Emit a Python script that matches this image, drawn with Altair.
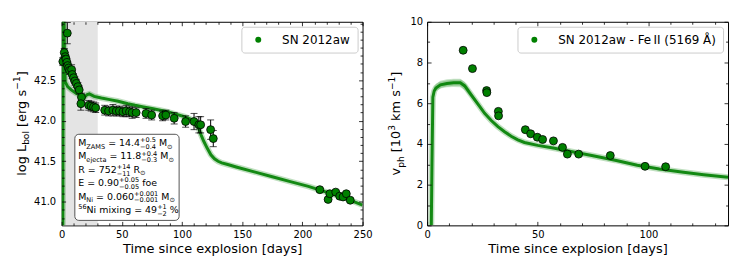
import altair as alt
import pandas as pd

FONT = "DejaVu Sans"
GREEN = "#008000"

# ---------------- left panel: bolometric light curve ----------------
lc_t = [1.0, 2.2, 3.0, 3.6, 4.4, 4.7, 5.0, 5.8, 6.6, 8.3, 8.8, 9.9, 11.0, 12.2, 13.5, 14.6,
        16.5, 16.0, 22.5, 24.5, 26.5, 28.3,
        35.8, 39.0, 42.6, 45.4, 48.0, 50.9, 53.6, 56.4, 58.6, 61.9,
        70.1, 74.8, 83.9, 86.6, 93.5, 103.0, 110.0, 114.0, 115.5, 123.8, 126.0,
        214.5, 221.4, 222.8, 227.7, 231.0, 233.8, 236.5, 239.8]
lc_L = [42.73, 42.84, 42.79, 42.76, 42.72, 43.08, 42.68, 42.65, 42.62, 42.63, 42.57, 42.53, 42.49, 42.46, 42.42, 42.38,
        42.29, 42.21, 42.19, 42.18, 42.17, 42.16,
        42.13, 42.12, 42.13, 42.12, 42.12, 42.11, 42.12, 42.11, 42.10, 42.10,
        42.09, 42.07, 42.06, 42.07, 42.03, 41.99, 41.99, 41.95, 41.95, 41.89, 41.78,
        41.15, 41.03, 41.10, 41.12, 41.07, 41.06, 41.10, 41.02]
lc_err = [0.05, 0.05, 0.05, 0.05, 0.05, 0.13, 0.05, 0.05, 0.05, 0.06, 0.05, 0.05, 0.05, 0.05, 0.05, 0.05,
          0.05, 0.08, 0.06, 0.06, 0.06, 0.06,
          0.06, 0.06, 0.07, 0.06, 0.06, 0.06, 0.07, 0.06, 0.07, 0.06,
          0.06, 0.06, 0.06, 0.06, 0.07, 0.07, 0.1, 0.1, 0.1, 0.12, 0.1,
          0.02, 0.02, 0.02, 0.02, 0.02, 0.02, 0.02, 0.02]

mod_t = [0.9, 1.3, 1.8, 2.3, 3.0, 5, 8, 12, 16, 19, 21, 23, 27, 33, 40, 47, 55, 61, 68, 75, 82, 88,
         95, 102, 107, 110, 112, 114, 116, 118, 121, 124, 127, 130, 133, 138, 145, 160, 175, 190,
         205, 220, 235, 250]
mod_L = [40.0, 43.6, 43.6, 42.9, 42.48, 42.42, 42.38, 42.34, 42.31, 42.29, 42.32, 42.33, 42.30, 42.28,
         42.26, 42.24, 42.21, 42.19, 42.17, 42.15, 42.13, 42.11, 42.08, 42.05, 42.02, 41.99, 41.96,
         41.90, 41.82, 41.75, 41.66, 41.58, 41.53, 41.50, 41.48, 41.46, 41.43, 41.37, 41.31, 41.25,
         41.19, 41.12, 41.05, 40.96]

shade_start = [0]
shade_end = [30]

lc_xmajor = [0, 50, 100, 150, 200, 250]
lc_xminor = [10, 20, 30, 40, 60, 70, 80, 90, 110, 120, 130, 140, 160, 170, 180, 190, 210, 220, 230, 240]
lc_ymajor = [41.0, 41.5, 42.0, 42.5]
lc_yminor = [40.8, 40.9, 41.1, 41.2, 41.3, 41.4, 41.6, 41.7, 41.8, 41.9, 42.1, 42.2, 42.3, 42.4,
             42.6, 42.7, 42.8, 42.9, 43.0, 43.1, 43.2]

# ---------------- right panel: Fe II velocity ----------------
vel_t = [16.3, 20.5, 26.9, 27.0, 32.2, 32.3, 44.4, 46.8, 49.8, 52.2, 57.1, 61.2, 63.4, 68.5, 82.8, 98.5, 107.8]
vel_v = [8.6, 7.7, 6.62, 6.52, 5.6, 5.38, 4.7, 4.5, 4.33, 4.22, 4.15, 3.83, 3.5, 3.5, 3.43, 2.9, 2.88]

vmod_t = [1.9, 2.2, 2.6, 3.2, 4, 6, 9, 12, 15, 17, 20, 23, 26, 29, 32, 35, 38, 41, 44, 50, 57, 65,
          75, 85, 95, 105, 115, 125, 136]
vmod_v = [0.0, 3.0, 6.3, 6.6, 6.75, 6.9, 6.97, 7.0, 7.0, 6.85, 6.4, 5.95, 5.5, 5.15, 4.85, 4.6, 4.38,
          4.2, 4.07, 3.93, 3.8, 3.63, 3.42, 3.2, 2.95, 2.77, 2.62, 2.49, 2.36]
band_t = [3, 4, 6, 9, 12, 15, 17, 20, 23]
band_lo = [6.5, 6.6, 6.72, 6.78, 6.8, 6.78, 6.65, 6.25, 5.85]
band_hi = [6.8, 6.95, 7.1, 7.18, 7.2, 7.2, 7.05, 6.55, 6.05]

v_xmajor = [0, 50, 100]
v_xminor = [10, 20, 30, 40, 60, 70, 80, 90, 110, 120, 130]
v_ymajor = [0, 2, 4, 6, 8, 10]
v_yminor = [0.5, 1, 1.5, 2.5, 3, 3.5, 4.5, 5, 5.5, 6.5, 7, 7.5, 8.5, 9, 9.5]

# ---------------- text helpers ----------------
CW = {' ': 0.318, '%': 0.950, '(': 0.390, ')': 0.390, '+': 0.838, '-': 0.361, '.': 0.318, '=': 0.838,
      '[': 0.390, ']': 0.390, 'A': 0.684, 'E': 0.632, 'L': 0.557, 'M': 0.863, 'N': 0.748, 'R': 0.695,
      'S': 0.635, 'Z': 0.685, 'a': 0.613, 'b': 0.635, 'c': 0.550, 'e': 0.615, 'f': 0.352, 'g': 0.635,
      'h': 0.634, 'i': 0.278, 'j': 0.278, 'k': 0.579, 'l': 0.278, 'm': 0.974, 'n': 0.634, 'o': 0.612,
      'p': 0.635, 'r': 0.411, 's': 0.521, 't': 0.392, 'v': 0.592, 'x': 0.592, 'y': 0.592,
      '\u2212': 0.838, '\u2299': 0.838}
for d in "0123456789":
    CW[d] = 0.636


def tw(s, size):
    return sum(CW.get(c, 0.6) for c in s) * size


def one_text(txt, x, y, size, angle=0):
    return alt.Chart(alt.Data(values=[{}])).mark_text(
        text=txt, align="left", baseline="alphabetic", fontSize=size, font=FONT,
        color="black", angle=angle).encode(x=alt.value(x), y=alt.value(y))


def rich(segments, x0, y0, base, script, sub, sup, psub, psup, rotate=False, center=None):
    """segments: (text, kind) kind in n/sub/sup/pair"""
    items = []
    off = 0.0
    for txt, kind in segments:
        if kind == "pair":
            a, b = txt
            items.append((a, off, psup, script))
            items.append((b, off, psub, script))
            off += max(tw(a, script), tw(b, script))
            continue
        size = base if kind == "n" else script
        lead = len(txt) - len(txt.lstrip(" "))
        off += tw(" " * lead, size)
        t = txt.strip(" ")
        shift = {"n": 0, "sub": sub, "sup": sup}[kind]
        items.append((t, off, shift, size))
        off += tw(t, size)
    layers = []
    if rotate:
        start = center + off / 2.0
        for t, o, s, size in items:
            layers.append(one_text(t, x0 + s, start - o, size, angle=270))
    else:
        for t, o, s, size in items:
            layers.append(one_text(t, x0 + o, y0 + s, size))
    return layers


def make_axis(values, majors, length, fmt, title, label_pad):
    test = "indexof(" + str(list(majors)) + ", datum.value) >= 0"
    return alt.Axis(
        values=values, format=fmt, grid=True, gridColor="black", gridWidth=0.8, gridOpacity=1,
        gridDash={"condition": {"test": test, "value": [4, length - 8, 4, 2000]},
                  "value": [2.5, length - 5, 2.5, 2000]},
        ticks=False, tickSize=0, domain=False,
        labelExpr="(" + test + ") ? datum.label : ''",
        labelFont=FONT, labelFontSize=10, labelColor="black", labelPadding=label_pad,
        labelOverlap=False, labelFlush=False,
        title=title, titleFont=FONT, titleFontSize=13, titleFontWeight="normal",
        titleColor="black", titlePadding=3, zindex=1)


W, H = 303, 205

LEG = dict(title=None, orient="top-right", offset=5, padding=7, strokeColor="#cccccc",
           fillColor="white", cornerRadius=3, labelFont=FONT, labelFontSize=12,
           labelColor="black", labelOffset=18, symbolType="circle", symbolSize=36,
           symbolStrokeWidth=0, symbolOffset=4)

# ---------------- left chart ----------------
lc_df = pd.DataFrame({"t": lc_t, "L": lc_L, "err": lc_err})
lc_df["lo"] = lc_df["L"] - lc_df["err"]
lc_df["hi"] = lc_df["L"] + lc_df["err"]
lc_df["series"] = "SN 2012aw"
mod_df = pd.DataFrame({"t": mod_t, "L": mod_L})
shade_df = pd.DataFrame({"t": shade_start, "t2": shade_end})

xs = alt.Scale(domain=[0, 250], nice=False, zero=False)
ys = alt.Scale(domain=[40.71, 43.22], nice=False, zero=False)
xa = make_axis(sorted(lc_xmajor + lc_xminor), lc_xmajor, H, "d", "Time since explosion [days]", 4)
ya = make_axis(sorted(lc_ymajor + lc_yminor), lc_ymajor, W, ".1f", None, 6)
X = alt.X("t:Q", scale=xs, axis=xa)

shade = alt.Chart(shade_df).mark_rect(color="#e4e4e4").encode(x=X, x2="t2:Q")
halo = alt.Chart(mod_df).mark_line(color=GREEN, strokeWidth=6, opacity=0.25, clip=True).encode(
    x=X, y=alt.Y("L:Q", scale=ys, axis=ya))
core = alt.Chart(mod_df).mark_line(color=GREEN, strokeWidth=3, opacity=0.9, clip=True).encode(
    x=X, y=alt.Y("L:Q", scale=ys, axis=ya))
ebar = alt.Chart(lc_df).mark_rule(color="black", strokeWidth=1).encode(
    x=X, y=alt.Y("lo:Q", scale=ys, axis=ya), y2="hi:Q")
cap_lo = alt.Chart(lc_df).mark_tick(color="black", orient="horizontal", size=7, thickness=1).encode(
    x=X, y=alt.Y("lo:Q", scale=ys, axis=ya))
cap_hi = alt.Chart(lc_df).mark_tick(color="black", orient="horizontal", size=7, thickness=1).encode(
    x=X, y=alt.Y("hi:Q", scale=ys, axis=ya))
pts = alt.Chart(lc_df).mark_point(filled=True, size=64, stroke="black", strokeWidth=0.8, opacity=1).encode(
    x=X, y=alt.Y("L:Q", scale=ys, axis=ya),
    fill=alt.Fill("series:N", scale=alt.Scale(domain=["SN 2012aw"], range=[GREEN]),
                  legend=alt.Legend(**LEG)))

box = alt.Chart(alt.Data(values=[{}])).mark_rect(
    fill="white", stroke="#555555", strokeWidth=1, cornerRadius=4).encode(
    x=alt.value(13.3), x2=alt.value(118.3), y=alt.value(113.3), y2=alt.value(200))

M = "\u2212"
lines = [
    [("M", "n"), ("ZAMS", "sub"), (" = 14.4", "n"), (("+0.5", M + "0.4"), "pair"), (" M", "n"), ("\u2299", "sub")],
    [("M", "n"), ("ejecta", "sub"), (" = 11.8", "n"), (("+0.4", M + "0.3"), "pair"), (" M", "n"), ("\u2299", "sub")],
    [("R = 752", "n"), (("+14", M + "11"), "pair"), (" R", "n"), ("\u2299", "sub")],
    [("E = 0.90", "n"), (("+0.05", M + "0.05"), "pair"), (" foe", "n")],
    [("M", "n"), ("Ni", "sub"), (" = 0.060", "n"), (("+0.001", M + "0.001"), "pair"), (" M", "n"), ("\u2299", "sub")],
    [("56", "sup"), ("Ni mixing = 49", "n"), (("+1", M + "2"), "pair"), (" %", "n")],
]
box_texts = []
for i, segs in enumerate(lines):
    box_texts += rich(segs, 16.7, 125.2 + 13.45 * i, 9.5, 6.6, 2.5, -3.8, 2.8, -3.8)

ytitle_l = rich([("log L", "n"), ("bol", "sub"), (" [erg s", "n"), (M + "1", "sup"), ("]", "n")],
                -36, 0, 13, 9.1, 3.5, -5.5, 0, 0, rotate=True, center=H / 2)

left = alt.layer(shade, halo, core, ebar, cap_lo, cap_hi, pts, box, *box_texts, *ytitle_l).properties(
    width=W, height=H)

# ---------------- right chart ----------------
vel_df = pd.DataFrame({"t": vel_t, "v": vel_v, "series2": "SN 2012aw - Fe\u2009II (5169 \u00c5)"})
vmod_df = pd.DataFrame({"t": vmod_t, "v": vmod_v})
band_df = pd.DataFrame({"t": band_t, "lo": band_lo, "hi": band_hi})

xs2 = alt.Scale(domain=[0, 136], nice=False, zero=False)
ys2 = alt.Scale(domain=[0, 10], nice=False, zero=False)
xa2 = make_axis(sorted(v_xmajor + v_xminor), v_xmajor, H, "d", "Time since explosion [days]", 4)
ya2 = make_axis(sorted(v_ymajor + v_yminor), v_ymajor, W, "d", None, 4.5)
X2 = alt.X("t:Q", scale=xs2, axis=xa2)

band = alt.Chart(band_df).mark_area(color=GREEN, opacity=0.22).encode(
    x=X2, y=alt.Y("lo:Q", scale=ys2, axis=ya2), y2="hi:Q")
vhalo = alt.Chart(vmod_df).mark_line(color=GREEN, strokeWidth=6, opacity=0.25, clip=True).encode(
    x=X2, y=alt.Y("v:Q", scale=ys2, axis=ya2))
vcore = alt.Chart(vmod_df).mark_line(color=GREEN, strokeWidth=3, opacity=0.9, clip=True).encode(
    x=X2, y=alt.Y("v:Q", scale=ys2, axis=ya2))
vpts = alt.Chart(vel_df).mark_point(filled=True, size=64, stroke="black", strokeWidth=0.8, opacity=1).encode(
    x=X2, y=alt.Y("v:Q", scale=ys2, axis=ya2),
    fill=alt.Fill("series2:N", scale=alt.Scale(domain=["SN 2012aw - Fe\u2009II (5169 \u00c5)"], range=[GREEN]),
                  legend=alt.Legend(**LEG)))

ytitle_r = rich([("v", "n"), ("ph", "sub"), (" [10", "n"), ("3", "sup"), (" km s", "n"), (M + "1", "sup"), ("]", "n")],
                -27, 0, 13, 9.1, 3.5, -5.5, 0, 0, rotate=True, center=H / 2)

right = alt.layer(band, vhalo, vcore, vpts, *ytitle_r).properties(width=W, height=H)

chart = alt.hconcat(left, right, spacing=14).resolve_scale(fill="independent").resolve_legend(
    fill="independent").properties(
    padding={"left": 5, "top": 7, "right": 2, "bottom": 2}
).configure_view(stroke="black", strokeWidth=1)

chart.save("out.html", embed_options={"renderer": "svg", "actions": False})
